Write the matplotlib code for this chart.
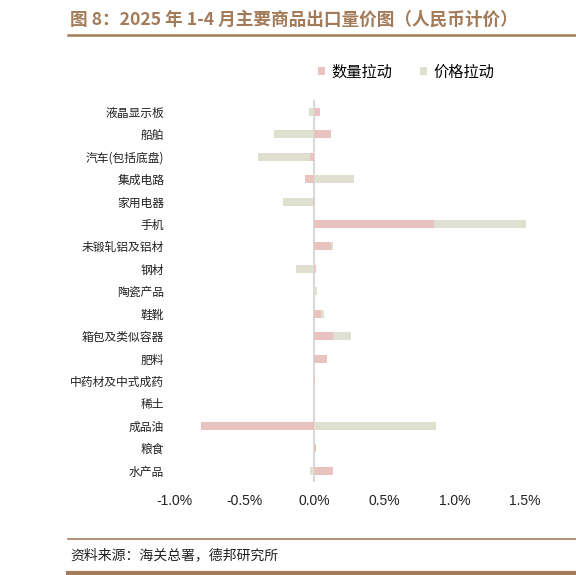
import numpy as np
import matplotlib.pyplot as plt

plt.rcParams['font.family'] = ['Noto Sans CJK SC', 'DejaVu Sans']

categories = ['液晶显示板', '船舶', '汽车(包括底盘)', '集成电路', '家用电器', '手机',
              '未锻轧铝及铝材', '钢材', '陶瓷产品', '鞋靴', '箱包及类似容器', '肥料',
              '中药材及中式成药', '稀土', '成品油', '粮食', '水产品']
quantity = [0.04, 0.12, -0.03, -0.07, -0.01, 0.85, 0.12, 0.01, 0.0, 0.05, 0.13, 0.09,
            0.003, 0.0, -0.81, 0.015, 0.13]
price = [-0.04, -0.29, -0.37, 0.28, -0.21, 0.66, 0.01, -0.13, 0.02, 0.02, 0.13, 0.0,
         0.0, 0.0, 0.865, 0.0, -0.03]
xticks = [-1.0, -0.5, 0.0, 0.5, 1.0, 1.5]
xticklabels = ['-1.0%', '-0.5%', '0.0%', '0.5%', '1.0%', '1.5%']

pink = '#e8c3c0'
green = '#dfe0cf'
brown = '#a37b59'

q = np.array(quantity)
p = np.array(price)
# excel-style stacking: price sits on quantity only when both have same sign
left_p = np.where(np.sign(p) == np.sign(q), q, 0.0)
y = np.arange(len(categories))

fig = plt.figure(figsize=(5.76, 5.75), dpi=100)
ax = fig.add_axes([0.302, 0.162, 0.6215, 0.664])

ax.barh(y, q, height=0.36, color=pink, label='数量拉动')
ax.barh(y, p, left=left_p, height=0.36, color=green, label='价格拉动')
ax.axvline(0, color='#d9d9d9', linewidth=1.5, zorder=0)

ax.set_xlim(-1.0, 1.55)
ax.set_ylim(16.5, -0.53)
ax.set_yticks(y)
ax.set_yticklabels(categories, fontsize=8.5, color='#222222')
ax.set_xticks(xticks)
ax.set_xticklabels(xticklabels, fontsize=10, family=['Liberation Sans'], color='#222222')
ax.tick_params(length=0)
ax.tick_params(axis='y', pad=7)
ax.tick_params(axis='x', pad=9)
for s in ax.spines.values():
    s.set_visible(False)

fig.legend(loc='center', bbox_to_anchor=(0.705, 0.875), ncol=2, frameon=False,
           fontsize=11, handlelength=0.5, handleheight=0.5, handletextpad=0.4,
           columnspacing=1.8)

fig.text(0.122, 0.966, '图 8：2025 年 1-4 月主要商品出口量价图（人民币计价）',
         fontsize=12.7, fontweight='bold', color=brown, va='center')
fig.add_artist(plt.Line2D([0.118, 1.0], [0.939, 0.939], color=brown, linewidth=1.8))
fig.add_artist(plt.Line2D([0.118, 1.0], [0.063, 0.063], color=brown, linewidth=1.2))
fig.text(0.122, 0.034, '资料来源：海关总署，德邦研究所', fontsize=10, color='#222222', va='center')
fig.add_artist(plt.Line2D([0.118, 1.0], [0.004, 0.004], color=brown, linewidth=3))

fig.savefig('out.png', dpi=100)
